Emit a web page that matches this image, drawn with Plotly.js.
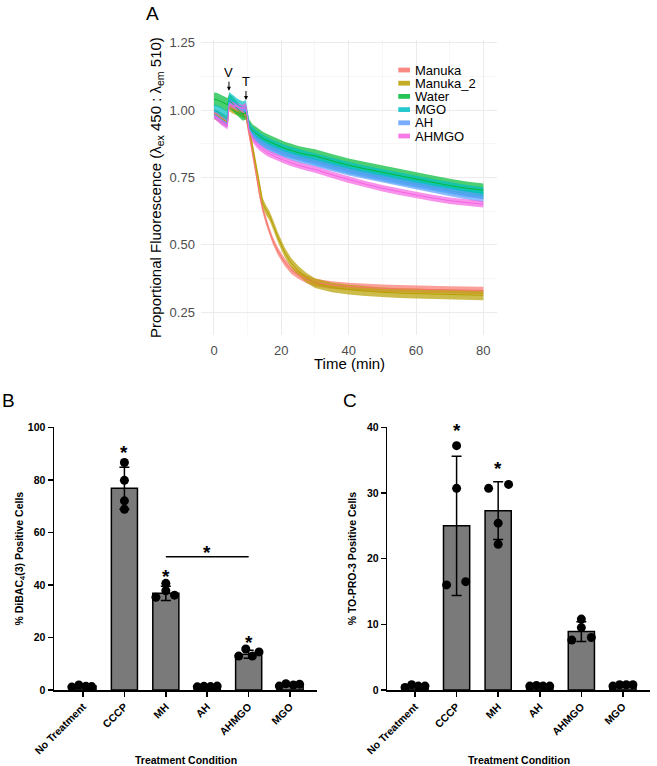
<!DOCTYPE html>
<html><head><meta charset="utf-8">
<script src="https://cdn.plot.ly/plotly-3.0.1.min.js"></script>
<style>html,body{margin:0;padding:0;background:#fff}</style>
</head><body><div id="chart" style="width:657px;height:766px"></div>
<script>
// ---------- Panel A data ----------
const times = [0,1,2,3,4,4.5,5.5,7,8.5,9.5,10.5,11.5,12.5,13.5,14.5,15.5,16.5,17.5,19,21,23,25,27.5,30,35,40,45,50,55,60,65,70,75,80];
const seriesNames = ['Manuka','Manuka_2','Water','MGO','AH','AHMGO'];
const seriesColors = ['#F8766D','#B79F00','#00BA38','#00BFC4','#619CFF','#F564E3'];
const manuka  = [0.99,0.985,0.975,0.965,0.955,1.02,1.01,1.0,0.995,0.975,0.91,0.837,0.764,0.688,0.631,0.586,0.55,0.515,0.476,0.436,0.406,0.388,0.372,0.36,0.351,0.346,0.342,0.339,0.337,0.335,0.334,0.333,0.332,0.331];
const manuka2 = [0.985,0.98,0.97,0.962,0.955,1.015,1.005,0.995,0.99,0.985,0.93,0.862,0.79,0.715,0.655,0.628,0.608,0.577,0.528,0.472,0.432,0.405,0.378,0.358,0.342,0.334,0.328,0.324,0.321,0.319,0.317,0.315,0.314,0.313];
const water   = [1.04,1.038,1.032,1.025,1.02,1.035,1.025,1.005,0.985,0.99,0.94,0.922,0.912,0.903,0.895,0.888,0.882,0.876,0.868,0.858,0.85,0.842,0.835,0.83,0.812,0.795,0.782,0.769,0.756,0.744,0.732,0.72,0.71,0.703];
const mgo     = [1.0,0.995,0.99,0.982,0.975,1.045,1.035,1.02,1.01,1.015,0.935,0.915,0.903,0.894,0.886,0.879,0.873,0.867,0.859,0.849,0.841,0.833,0.825,0.818,0.801,0.785,0.772,0.759,0.746,0.734,0.722,0.711,0.7,0.692];
const ah      = [0.985,0.975,0.965,0.957,0.95,1.03,1.02,1.01,1.0,1.005,0.93,0.91,0.893,0.882,0.873,0.865,0.858,0.852,0.845,0.836,0.828,0.82,0.813,0.806,0.788,0.772,0.758,0.745,0.733,0.721,0.708,0.695,0.683,0.672];
const ahmgo   = [0.98,0.97,0.958,0.948,0.94,1.02,1.018,1.012,1.008,1.015,0.92,0.893,0.875,0.862,0.852,0.844,0.837,0.831,0.823,0.813,0.804,0.795,0.787,0.78,0.76,0.742,0.725,0.71,0.697,0.685,0.674,0.664,0.657,0.651];
const ribbonSD = [0.014,0.018,0.025,0.022,0.015,0.012];
const seriesMeans = [manuka, manuka2, water, mgo, ah, ahmgo];
const yTickVals = [0.25,0.5,0.75,1.0,1.25];
const yTickText = ['0.25','0.50','0.75','1.00','1.25'];
const eventLabels = ['V','T'];
const eventTimes = [4.45, 9.5];
const eventY = [1.072, 1.0375];

// ---------- Panels B & C data ----------
const categories = ['No Treatment','CCCP','MH','AH','AHMGO','MGO'];
const bMeans = [1.5,76.8,36.8,1.4,13.6,2.0];
const bSD = [0.3,8.0,2.7,0.2,1.5,0.4];
const bPoints = [[1.1,1.9,1.4,1.3],[86.6,79.8,72.0,68.8],[35.3,40.6,37.8,36.1],[1.2,1.4,1.3,1.5],[12.9,15.6,12.9,14.5],[1.5,2.4,1.9,2.2]];
const bStarCats = [1,2,4,3];
const bStarY = [92.3,45.0,20.0,54.1];
const bSigFrom = 2, bSigTo = 4, bSigY = 50.7;

const cMeans = [0.6,25.0,27.3,0.6,8.9,0.7];
const cSD = [0.2,10.6,4.4,0.1,1.5,0.15];
const cPoints = [[0.4,0.8,0.6,0.6],[16.0,37.2,30.7,16.5],[30.7,25.4,22.2,31.3],[0.6,0.7,0.6,0.6],[7.6,10.8,9.5,8.0],[0.6,0.8,0.8,0.8]];
const cStarCats = [1,2];
const cStarY = [40.3,34.45];

// horizontal spread of dots within a bar (layout only)
const bOffsets = [[-0.27,-0.1,0.07,0.21],[0,0,0,0],[-0.24,0,0,0.21],[-0.24,-0.08,0.08,0.24],[-0.24,-0.07,0.09,0.25],[-0.26,-0.1,0.08,0.23]];
const cOffsets = [[-0.24,-0.08,0.08,0.24],[-0.24,0,0,0.22],[-0.23,0,0,0.25],[-0.24,-0.08,0.08,0.24],[-0.23,0,0,0.24],[-0.24,-0.08,0.08,0.24]];

// ---------- helpers ----------
const W = 657, H = 766;
const px = v => v / W;
const py = v => 1 - v / H;
function rgba(hex, a) {
  const n = parseInt(hex.slice(1), 16);
  return `rgba(${(n>>16)&255},${(n>>8)&255},${n&255},${a})`;
}
const fontA = 'Liberation Sans, Arial, Helvetica, sans-serif';
const idx = categories.map((_, i) => i);

const traces = [];
seriesMeans.forEach((m, i) => {
  const up = m.map(v => v + ribbonSD[i]);
  const lo = m.map(v => v - ribbonSD[i]);
  traces.push({
    x: times.concat(times.slice().reverse()),
    y: up.concat(lo.slice().reverse()),
    type: 'scatter', mode: 'lines', fill: 'toself',
    fillcolor: rgba(seriesColors[i], 0.7), line: {width: 0, color: seriesColors[i]},
    hoverinfo: 'skip', showlegend: false, xaxis: 'x', yaxis: 'y'
  });
});
seriesMeans.forEach((m, i) => {
  traces.push({
    x: times, y: m, type: 'scatter', mode: 'lines', name: seriesNames[i],
    line: {color: seriesColors[i], width: 1}, showlegend: false, xaxis: 'x', yaxis: 'y'
  });
});

function barPanel(means, sd, points, offsets, xa, ya) {
  traces.push({
    type: 'bar', x: idx, y: means, width: 0.63,
    marker: {color: '#7a7a7a', line: {color: '#000', width: 1.5}},
    error_y: {type: 'data', array: sd, visible: true, color: '#000', thickness: 1.5, width: 5},
    showlegend: false, xaxis: xa, yaxis: ya
  });
  const xs = [], ys = [];
  points.forEach((arr, i) => arr.forEach((v, j) => { xs.push(i + offsets[i][j]); ys.push(v); }));
  traces.push({
    type: 'scatter', mode: 'markers', x: xs, y: ys, cliponaxis: false,
    marker: {color: '#000', size: 9}, showlegend: false, xaxis: xa, yaxis: ya
  });
}
barPanel(bMeans, bSD, bPoints, bOffsets, 'x2', 'y2');
barPanel(cMeans, cSD, cPoints, cOffsets, 'x3', 'y3');

const annotations = [];
const shapes = [];
[['A',152,13.5],['B',8,400],['C',350,400]].forEach(([t,x,y]) => annotations.push({
  text: t, xref: 'paper', yref: 'paper', x: px(x), y: py(y), xanchor: 'center', yanchor: 'middle',
  showarrow: false, font: {family: fontA, size: 19, color: '#000'}
}));
annotations.push({text: 'Time (min)', xref: 'paper', yref: 'paper', x: px(349), y: py(363),
  xanchor: 'center', yanchor: 'middle', showarrow: false, font: {family: fontA, size: 15, color: '#000'}});
[186, 519].forEach(x => annotations.push({text: 'Treatment Condition', xref: 'paper', yref: 'paper',
  x: px(x), y: py(760), xanchor: 'center', yanchor: 'middle', showarrow: false,
  font: {family: fontA, size: 10.5, weight: 'bold', color: '#000'}}));
seriesNames.forEach((n, i) => {
  const ry = 70 + 13.2 * i;
  annotations.push({
    text: n, xref: 'paper', yref: 'paper', x: px(413), y: py(ry), xanchor: 'left', yanchor: 'middle',
    showarrow: false, font: {family: fontA, size: 13, color: '#000'}
  });
  shapes.push({
    type: 'rect', xref: 'paper', yref: 'paper', x0: px(398.3), x1: px(410), y0: py(ry + 2.4), y1: py(ry - 2.4),
    fillcolor: rgba(seriesColors[i], 0.85), line: {width: 0}
  });
});
eventLabels.forEach((t, i) => annotations.push({
  text: t, xref: 'x', yref: 'y', x: eventTimes[i], y: eventY[i], showarrow: true,
  ax: 0, ay: -18, arrowhead: 2, arrowsize: 0.8, arrowwidth: 1, arrowcolor: '#000',
  font: {family: fontA, size: 13, color: '#000'}
}));
const starFont = {family: fontA, size: 19, weight: 'bold', color: '#000'};
function addStars(cats, ys, xr, yr, yMax, pxPerUnit) {
  cats.forEach((c, i) => {
    const yy = Math.min(ys[i], yMax);
    annotations.push({text: '*', xref: xr, yref: yr, x: c, y: yy,
      yshift: (ys[i] - yy) * pxPerUnit - 5, showarrow: false, font: starFont});
  });
}
addStars(bStarCats, bStarY, 'x2', 'y2', 100, 2.63);
addStars(cStarCats, cStarY, 'x3', 'y3', 40, 6.56);
shapes.push({type: 'line', xref: 'x2', yref: 'y2', x0: bSigFrom, x1: bSigTo, y0: bSigY, y1: bSigY,
  line: {color: '#000', width: 1.5}});

const tickFontBC = {family: fontA, size: 10.5, weight: 'bold', color: '#000'};
const titleFontBC = {family: fontA, size: 10.5, weight: 'bold', color: '#000'};
function xBC(domain, range, anchor) {
  return {domain, range, anchor, tickvals: idx, ticktext: categories, tickangle: -45,
    ticks: 'outside', ticklen: 5, tickwidth: 1.5, tickcolor: '#000',
    showline: true, linewidth: 1.5, linecolor: '#000', showgrid: false, zeroline: false,
    tickfont: tickFontBC};
}
function yBC(domain, range, vals, title, anchor) {
  return {domain, range, anchor, tickvals: vals, ticks: 'outside', ticklen: 5, tickwidth: 1.5, tickcolor: '#000',
    showline: true, linewidth: 1.5, linecolor: '#000', showgrid: false, zeroline: false,
    tickfont: tickFontBC, title: {text: title, font: titleFontBC}};
}

const layout = {
  width: W, height: H, margin: {l: 0, r: 0, t: 0, b: 0},
  paper_bgcolor: '#fff', plot_bgcolor: '#fff', showlegend: false,
  font: {family: fontA},
  xaxis: {domain: [0.3052, 0.7562], range: [-4, 84], anchor: 'y', tick0: 0, dtick: 20,
    showgrid: true, gridcolor: '#ebebeb', gridwidth: 1,
    minor: {dtick: 10, tick0: 0, showgrid: true, gridcolor: '#f3f3f3', gridwidth: 0.7},
    zeroline: false, showline: false, ticks: 'outside', ticklen: 3, tickcolor: 'rgba(0,0,0,0)',
    tickfont: {family: fontA, size: 13, color: '#4d4d4d'}},
  yaxis: {domain: [0.5624, 0.9478], range: [0.165, 1.26], anchor: 'x', tickvals: yTickVals, ticktext: yTickText,
    showgrid: true, gridcolor: '#ebebeb', gridwidth: 1,
    minor: {tickvals: [0.375, 0.625, 0.875, 1.125], showgrid: true, gridcolor: '#f3f3f3', gridwidth: 0.7},
    zeroline: false, showline: false, ticks: 'outside', ticklen: 2, tickcolor: 'rgba(0,0,0,0)',
    tickfont: {family: fontA, size: 13, color: '#4d4d4d'},
    title: {text: 'Proportional Fluorescence (λ<sub>ex</sub> 450 : λ<sub>em</sub> 510)', font: {family: fontA, size: 15, color: '#000'}}},
  xaxis2: xBC([0.0822, 0.4825], [-0.70, 5.65], 'y2'),
  yaxis2: yBC([0.0992, 0.4422], [0, 100], [0,20,40,60,80,100], '% DiBAC<sub>4</sub>(3) Positive Cells', 'x2'),
  xaxis3: xBC([0.5895, 0.9893], [-0.666, 5.65], 'y3'),
  yaxis3: yBC([0.0992, 0.4422], [0, 40], [0,10,20,30,40], '% TO-PRO-3 Positive Cells', 'x3'),
  annotations, shapes
};
Plotly.newPlot('chart', traces, layout, {displayModeBar: false, staticPlot: true});
</script></body></html>
